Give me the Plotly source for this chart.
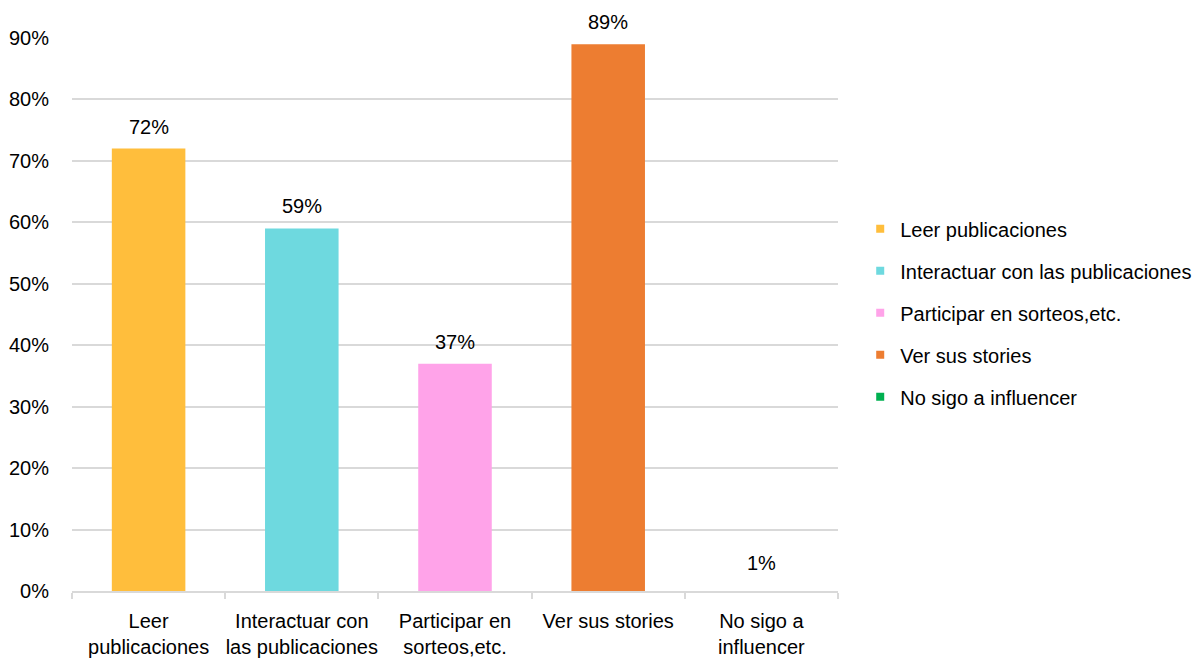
import plotly.graph_objects as go

categories = [
    "Leer publicaciones",
    "Interactuar con las publicaciones",
    "Participar en sorteos,etc.",
    "Ver sus stories",
    "No sigo a influencer",
]
axis_labels = [
    "Leer<br>publicaciones",
    "Interactuar con<br>las publicaciones",
    "Participar en<br>sorteos,etc.",
    "Ver sus stories",
    "No sigo a<br>influencer",
]
values = [72, 59, 37, 89, 1]
colors = ["#FFBE3C", "#6ED9DF", "#FFA3E9", "#ED7D31", "#00B050"]
bar_visible = [True, True, True, True, False]

FONT = "Liberation Sans, Arial, sans-serif"
FS = 20

fig = go.Figure()

bar_colors = [c if v else "rgba(0,0,0,0)" for c, v in zip(colors, bar_visible)]
fig.add_trace(go.Bar(
    x=axis_labels,
    y=values,
    width=0.48,
    marker=dict(color=bar_colors, line=dict(width=0)),
    showlegend=False,
    hoverinfo="skip",
))

# value labels above each bar
for lab, v in zip(axis_labels, values):
    fig.add_annotation(
        x=lab, y=v, text=f"{v}%", showarrow=False,
        yanchor="middle", yshift=22,
        font=dict(size=FS, family=FONT, color="#000000"),
    )

# legend entries, one per category
for i, (name, col) in enumerate(zip(categories, colors)):
    fig.add_trace(go.Scatter(
        x=[None], y=[None], mode="markers", name=name,
        legendgroup=f"g{i}",
        marker=dict(symbol="square", size=8, color=col),
    ))

fig.update_layout(
    width=1195, height=662,
    margin=dict(l=72, r=357, t=38, b=71, autoexpand=False),
    paper_bgcolor="white", plot_bgcolor="white",
    font=dict(family=FONT, size=FS, color="#000000"),
    bargap=0.52,
    legend=dict(
        x=1.029, y=0.503, xanchor="left", yanchor="middle",
        font=dict(size=FS, family=FONT),
        traceorder="grouped", tracegroupgap=13,
        itemwidth=30,
    ),
)
fig.update_yaxes(
    range=[0, 90], dtick=10, ticksuffix="%",
    showgrid=True, gridcolor="#D9D9D9", gridwidth=1.5,
    zeroline=False, showline=False, ticks="",
    ticklabelstandoff=22, automargin=False,
    tickfont=dict(size=FS, family=FONT),
)
fig.update_xaxes(
    showline=True, linecolor="#D9D9D9", linewidth=1.5,
    ticks="outside", tickson="boundaries", ticklen=6, tickcolor="#D9D9D9", tickwidth=1.5,
    ticklabelstandoff=11, tickangle=0, automargin=False,
    tickfont=dict(size=FS, family=FONT),
)

fig.write_html("out.html")
